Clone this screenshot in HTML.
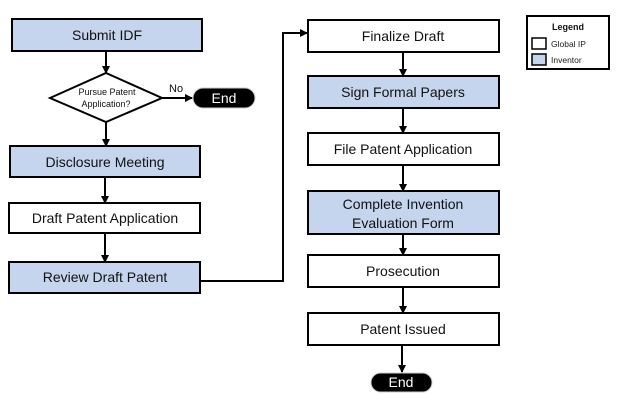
<!DOCTYPE html>
<html><head><style>body{margin:0;background:#fff}svg{display:block}</style></head><body>
<svg width="619" height="402" viewBox="0 0 619 402" xmlns="http://www.w3.org/2000/svg" font-family="Liberation Sans, sans-serif">
<defs><marker id="a" markerWidth="8" markerHeight="8" refX="7" refY="4" orient="auto" markerUnits="userSpaceOnUse"><path d="M0,0 L8,4 L0,8 Z" fill="#000"/></marker></defs>
<g stroke="#000" stroke-width="2">
<rect x="12" y="19" width="190" height="32" fill="#c6d5ee"/>
<polygon points="50,98 106,73 162,98 106,122" fill="#fff"/>
<rect x="10" y="146" width="190" height="31" fill="#c6d5ee"/>
<rect x="9" y="203" width="191" height="30" fill="#fff"/>
<rect x="9" y="262" width="191" height="31" fill="#c6d5ee"/>
<rect x="308" y="20" width="191" height="32" fill="#fff"/>
<rect x="308" y="76" width="191" height="32" fill="#c6d5ee"/>
<rect x="308" y="133" width="191" height="32" fill="#fff"/>
<rect x="308" y="191" width="191" height="43" fill="#c6d5ee"/>
<rect x="308" y="255" width="191" height="32" fill="#fff"/>
<rect x="308" y="313" width="191" height="32" fill="#fff"/>
<rect x="527" y="16" width="82" height="53" fill="#fff"/>
<rect x="532" y="38" width="14" height="11" fill="#fff" stroke-width="1.5"/>
<rect x="532" y="54" width="14" height="11" fill="#c6d5ee" stroke-width="1.5"/>
<g fill="none">
<line x1="106" y1="51" x2="106" y2="73" marker-end="url(#a)"/>
<line x1="162" y1="98" x2="192" y2="98" marker-end="url(#a)"/>
<line x1="106" y1="122" x2="106" y2="146" marker-end="url(#a)"/>
<line x1="105" y1="177" x2="105" y2="203" marker-end="url(#a)"/>
<line x1="105" y1="233" x2="105" y2="262" marker-end="url(#a)"/>
<polyline points="200,281 283,281 283,33 307,33" marker-end="url(#a)"/>
<line x1="403" y1="52" x2="403" y2="76" marker-end="url(#a)"/>
<line x1="403" y1="108" x2="403" y2="133" marker-end="url(#a)"/>
<line x1="403" y1="165" x2="403" y2="191" marker-end="url(#a)"/>
<line x1="403" y1="234" x2="403" y2="255" marker-end="url(#a)"/>
<line x1="403" y1="287" x2="403" y2="313" marker-end="url(#a)"/>
<line x1="402" y1="345" x2="402" y2="372" marker-end="url(#a)"/>
</g>
</g>
<rect x="193" y="88" width="62" height="20" rx="10" fill="#000" stroke="#ccc" stroke-width="1"/>
<rect x="371" y="373" width="61" height="19" rx="9.5" fill="#000" stroke="#ccc" stroke-width="1"/>
<g font-size="14" fill="#111" text-anchor="middle">
<text x="107" y="40">Submit IDF</text>
<text x="105" y="167">Disclosure Meeting</text>
<text x="105" y="223">Draft Patent Application</text>
<text x="105" y="282">Review Draft Patent</text>
<text x="403" y="41">Finalize Draft</text>
<text x="403" y="97">Sign Formal Papers</text>
<text x="403" y="154">File Patent Application</text>
<text x="403" y="209">Complete Invention</text>
<text x="403" y="228">Evaluation Form</text>
<text x="403" y="276">Prosecution</text>
<text x="403" y="334">Patent Issued</text>
<text x="224" y="103" fill="#fff">End</text>
<text x="401" y="387" fill="#fff">End</text>
</g>
<g font-size="9" fill="#111" text-anchor="middle">
<text x="107" y="95">Pursue Patent</text>
<text x="106" y="107">Application?</text>
</g>
<text x="169" y="92" font-size="11" fill="#111">No</text>
<text x="568" y="30" font-size="9" font-weight="bold" text-anchor="middle" fill="#111">Legend</text>
<text x="551" y="47" font-size="8.5" fill="#222">Global IP</text>
<text x="551" y="63" font-size="8.5" fill="#222">Inventor</text>
</svg>
</body></html>
